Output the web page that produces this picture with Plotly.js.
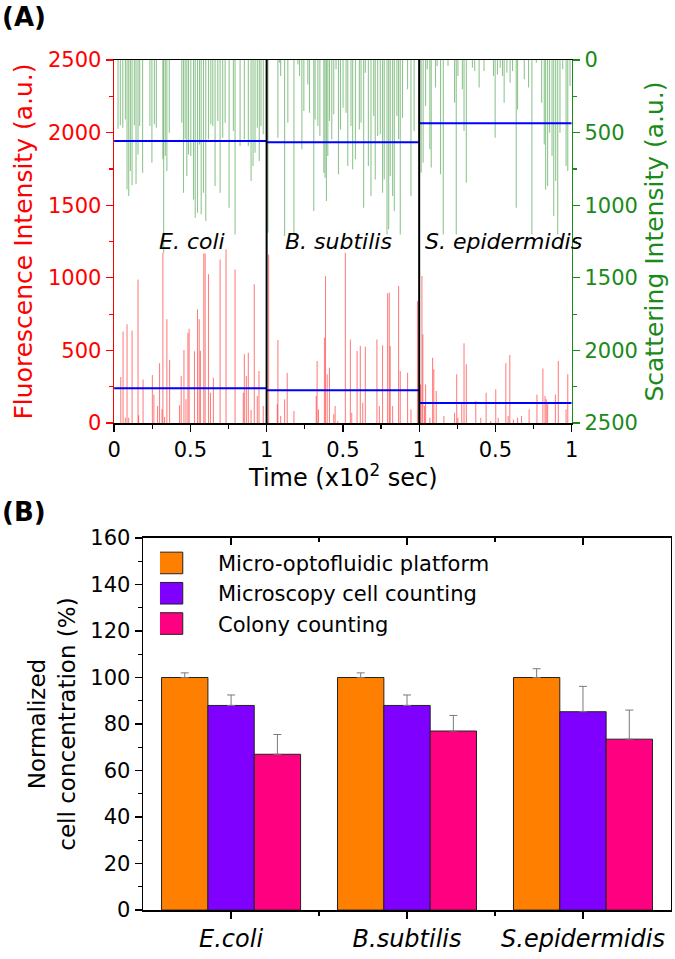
<!DOCTYPE html>
<html>
<head>
<meta charset="utf-8">
<script src="https://cdn.plot.ly/plotly-3.0.1.min.js"></script>
<style>
  body { margin: 0; background: #fff; }
  #chart { width: 675px; height: 959px; }
</style>
</head>
<body>
<div id="chart"></div>
<script>
// (A) spike trains, time within each segment (x10^2 sec) and intensity (a.u.)
var species = ["E. coli", "B. subtilis", "S. epidermidis"];

var ecoliFlT = [0.044,0.059,0.074,0.085,0.096,0.118,0.157,0.161,0.190,0.251,0.261,0.285,0.298,0.314,0.320,0.331,0.346,0.364,0.429,0.440,0.458,0.471,0.484,0.492,0.527,0.547,0.558,0.566,0.588,0.597,0.619,0.632,0.651,0.695,0.734,0.793,0.847,0.854,0.867,0.880,0.898,0.919,0.939,0.950,0.978];
var ecoliFl = [317,631,37,680,37,638,989,53,300,330,197,117,411,94,1173,41,714,434,122,324,503,163,622,650,494,783,714,498,1168,1168,1024,209,312,1127,1196,1058,209,473,324,484,90,955,186,358,117];
var ecoliScT = [0.026,0.041,0.057,0.074,0.085,0.096,0.107,0.118,0.133,0.144,0.157,0.168,0.187,0.235,0.248,0.264,0.277,0.320,0.325,0.336,0.346,0.362,0.444,0.455,0.466,0.477,0.488,0.503,0.521,0.532,0.547,0.560,0.571,0.586,0.601,0.619,0.634,0.647,0.662,0.680,0.695,0.712,0.728,0.754,0.782,0.793,0.826,0.854,0.880,0.898,0.911,0.924,0.939,0.952,0.963,0.978];
var ecoliSc = [473,450,466,409,891,937,764,863,450,856,650,455,776,455,707,443,466,684,1327,661,764,500,432,914,546,799,650,661,960,1086,1051,581,1063,914,1109,546,443,455,868,420,914,535,432,1017,489,1201,592,546,592,833,730,638,466,696,455,512];

var bsubFlT = [0.013,0.070,0.074,0.092,0.118,0.135,0.179,0.325,0.331,0.340,0.379,0.386,0.397,0.412,0.440,0.449,0.466,0.516,0.549,0.558,0.593,0.614,0.630,0.647,0.723,0.739,0.760,0.793,0.804,0.810,0.826,0.865,0.876,0.924,0.946,0.989];
var bsubFl = [1161,129,572,48,163,347,83,186,427,94,588,1012,335,381,60,117,14,1173,576,71,496,530,140,526,576,117,535,893,898,530,117,944,358,347,94,840];
var bsubScT = [0.009,0.074,0.085,0.092,0.118,0.139,0.179,0.205,0.216,0.231,0.244,0.270,0.281,0.309,0.318,0.336,0.349,0.375,0.383,0.392,0.401,0.412,0.427,0.440,0.455,0.471,0.484,0.501,0.521,0.532,0.553,0.564,0.582,0.608,0.619,0.636,0.647,0.667,0.684,0.702,0.712,0.728,0.745,0.760,0.771,0.789,0.800,0.810,0.826,0.837,0.854,0.865,0.876,0.891,0.924,0.946,0.967];
var bsubSc = [1189,535,18,110,1212,432,1201,30,110,615,351,168,363,1040,409,455,523,776,810,971,661,420,546,374,64,787,478,328,363,730,455,753,684,478,432,1017,87,730,937,386,822,523,512,914,822,1201,1166,799,937,1040,386,546,1201,397,202,937,489];

var sepiFlT = [0.009,0.018,0.024,0.035,0.042,0.070,0.088,0.096,0.112,0.162,0.232,0.246,0.254,0.279,0.294,0.309,0.371,0.404,0.439,0.469,0.502,0.518,0.568,0.583,0.594,0.618,0.645,0.671,0.721,0.772,0.811,0.825,0.833,0.842,0.893,0.912,0.963,0.974];
var sepiFl = [266,1012,611,117,266,37,450,370,220,48,71,335,37,140,549,404,152,37,209,14,232,37,411,48,468,25,37,48,94,197,376,186,163,129,197,427,94,335];
var sepiScT = [0.013,0.026,0.042,0.053,0.070,0.079,0.107,0.118,0.140,0.158,0.189,0.232,0.243,0.254,0.283,0.294,0.309,0.349,0.364,0.393,0.425,0.487,0.498,0.513,0.531,0.546,0.557,0.575,0.596,0.612,0.636,0.645,0.689,0.717,0.739,0.768,0.803,0.820,0.829,0.842,0.855,0.871,0.882,0.895,0.908,0.923,0.941,0.963,0.974,0.989];
var sepiSc = [776,707,317,64,615,741,190,41,787,1201,41,294,1201,110,202,489,845,53,76,190,76,110,535,99,53,110,294,87,156,76,1017,340,133,190,1201,18,294,581,891,868,500,661,1074,833,1201,500,64,730,764,179];

var flMean = [240, 226, 138];
var scMean = [557, 567, 436];

// (B) normalized cell concentration (%)
var groups = ["E.coli", "B.subtilis", "S.epidermidis"];
var platform = [100, 100, 100];
var platformErr = [2, 2, 3.8];
var microscopy = [88, 88, 85.3];
var microscopyErr = [4.5, 4.5, 10.9];
var colony = [67, 77, 73.5];
var colonyErr = [8.5, 6.7, 12.5];

var FONT = "DejaVu Sans, Liberation Sans, Arial, sans-serif";
var RED = "#ff0000";
var GREEN = "#1a8a1a";

function shift(arr, k) { return arr.map(function (t) { return t + k; }); }

var flX = shift(ecoliFlT, 0).concat(shift(bsubFlT, 1), shift(sepiFlT, 2));
var flY = ecoliFl.concat(bsubFl, sepiFl);
var scX = shift(ecoliScT, 0).concat(shift(bsubScT, 1), shift(sepiScT, 2));
var scY = ecoliSc.concat(bsubSc, sepiSc);

function meanLine(vals) {
  var x = [], y = [];
  vals.forEach(function (v, i) { x.push(i, i + 1, null); y.push(v, v, null); });
  return { x: x, y: y };
}
var flM = meanLine(flMean);
var scM = meanLine(scMean);

var data = [
  { type: "bar", x: flX, y: flY, width: 0.007, xaxis: "x", yaxis: "y",
    marker: { color: "rgba(255,0,0,0.5)", line: { width: 0 } }, showlegend: false, hoverinfo: "skip" },
  { type: "bar", x: scX, y: scY, width: 0.007, xaxis: "x", yaxis: "y2",
    marker: { color: "rgba(30,140,30,0.5)", line: { width: 0 } }, showlegend: false, hoverinfo: "skip" },
  { type: "scatter", mode: "lines", x: flM.x, y: flM.y, xaxis: "x", yaxis: "y",
    line: { color: "#0000ff", width: 2 }, showlegend: false, connectgaps: false },
  { type: "scatter", mode: "lines", x: scM.x, y: scM.y, xaxis: "x", yaxis: "y2",
    line: { color: "#0000ff", width: 2 }, showlegend: false, connectgaps: false }
];

var bx = [0, 1, 2];
[[platform, platformErr, "Micro-optofluidic platform", "#ff8000"],
 [microscopy, microscopyErr, "Microscopy cell counting", "#8000ff"],
 [colony, colonyErr, "Colony counting", "#ff0080"]].forEach(function (s) {
  data.push({
    type: "bar", x: bx, y: s[0], name: s[2], xaxis: "x2", yaxis: "y3",
    marker: { color: s[3], line: { color: "#222", width: 1 } },
    error_y: { type: "data", array: s[1], arrayminus: [0, 0, 0], symmetric: false,
               color: "#7a7a7a", thickness: 1, width: 4 }
  });
});
// empty trace so the top (inside-tick) axis of panel B is drawn
data.push({ type: "scatter", mode: "markers", x: bx, y: [null, null, null], xaxis: "x3", yaxis: "y3",
            showlegend: false, hoverinfo: "skip" });

var layout = {
  width: 675, height: 959,
  margin: { l: 0, r: 0, t: 0, b: 0 },
  paper_bgcolor: "#fff", plot_bgcolor: "rgba(0,0,0,0)",
  font: { family: FONT, color: "#000" },
  barmode: "group", bargap: 0.21, bargroupgap: 0,
  showlegend: true,
  legend: { x: 0.237, y: 0.434, xanchor: "left", yanchor: "top", xref: "paper", yref: "paper",
            font: { size: 21, family: FONT }, bgcolor: "rgba(0,0,0,0)", itemwidth: 48, tracegroupgap: 0 },
  xaxis: {
    domain: [0.169, 0.847], anchor: "y", range: [0, 3],
    tickmode: "array", tickvals: [0, 0.5, 1, 1.5, 2, 2.5, 3],
    ticktext: ["0", "0.5", "1", "0.5", "1", "0.5", "1"],
    ticks: "outside", ticklen: 7, tickcolor: "#000", tickwidth: 1.2,
    minor: { tickmode: "array", tickvals: [0.25, 0.75, 1.25, 1.75, 2.25, 2.75], ticks: "outside", ticklen: 4, tickcolor: "#000" },
    showline: true, linecolor: "#000", linewidth: 1.5, mirror: true,
    showgrid: false, zeroline: false,
    tickfont: { size: 21, color: "#000" }
  },
  yaxis: {
    domain: [0.5589, 0.9374], anchor: "x", range: [0, 2500],
    tickvals: [0, 500, 1000, 1500, 2000, 2500],
    ticks: "outside", ticklen: 7, tickcolor: RED, tickwidth: 1.2,
    minor: { dtick: 250, ticks: "outside", ticklen: 4, tickcolor: RED },
    showline: true, linecolor: RED, linewidth: 1.5,
    showgrid: false, zeroline: false,
    tickfont: { size: 21, color: RED },
    title: { text: "Fluorescence Intensity (a.u.)", font: { size: 25, color: RED }, standoff: 8 }
  },
  yaxis2: {
    overlaying: "y", side: "right", anchor: "x", range: [2500, 0],
    tickvals: [0, 500, 1000, 1500, 2000, 2500],
    ticks: "outside", ticklen: 7, tickcolor: GREEN, tickwidth: 1.2,
    minor: { dtick: 250, ticks: "outside", ticklen: 4, tickcolor: GREEN },
    showline: true, linecolor: GREEN, linewidth: 1.5,
    showgrid: false, zeroline: false,
    tickfont: { size: 21, color: GREEN },
    title: { text: "Scattering Intensity (a.u.)", font: { size: 25, color: GREEN }, standoff: 8 }
  },
  xaxis2: {
    domain: [0.212, 0.994], anchor: "y3", range: [-0.5, 2.5],
    tickmode: "array", tickvals: bx,
    ticktext: groups.map(function (g) { return "<i>" + g + "</i>"; }),
    ticks: "outside", ticklen: 7, tickcolor: "#000", tickwidth: 1.2,
    minor: { tickmode: "array", tickvals: [0.5, 1.5], ticks: "outside", ticklen: 4, tickcolor: "#000" },
    showline: true, linecolor: "#000", linewidth: 1.5, mirror: true,
    showgrid: false, zeroline: false,
    tickfont: { size: 24, color: "#000" }
  },
  xaxis3: {
    overlaying: "x2", side: "top", anchor: "y3", range: [-0.5, 2.5],
    tickmode: "array", tickvals: bx, showticklabels: false,
    ticks: "inside", ticklen: 7, tickcolor: "#000", tickwidth: 1.2,
    minor: { tickmode: "array", tickvals: [0.5, 1.5], ticks: "inside", ticklen: 4, tickcolor: "#000" },
    showline: false, showgrid: false, zeroline: false
  },
  yaxis3: {
    domain: [0.051, 0.439], anchor: "x2", range: [0, 160],
    tickvals: [0, 20, 40, 60, 80, 100, 120, 140, 160],
    ticks: "outside", ticklen: 7, tickcolor: "#000", tickwidth: 1.2,
    minor: { dtick: 10, ticks: "outside", ticklen: 4, tickcolor: "#000" },
    showline: true, linecolor: "#000", linewidth: 1.5, mirror: true,
    showgrid: false, zeroline: false,
    tickfont: { size: 21, color: "#000" },
    title: { text: "Normalized<br>cell concentration (%)", font: { size: 23, color: "#000" }, standoff: 8 }
  },
  shapes: [1, 2].map(function (k) {
    return { type: "line", xref: "x", yref: "y domain", x0: k, x1: k, y0: 0, y1: 1,
             line: { color: "#000", width: 2 } };
  }),
  annotations: [
    { text: "<b>(A)</b>", xref: "paper", yref: "paper", x: 0.0, y: 1.0, xanchor: "left", yanchor: "top",
      showarrow: false, font: { size: 26, color: "#000" } },
    { text: "<b>(B)</b>", xref: "paper", yref: "paper", x: 0.0, y: 0.484, xanchor: "left", yanchor: "top",
      showarrow: false, font: { size: 26, color: "#000" } },
    { text: "Time (x10<sup>2</sup> sec)", xref: "x", yref: "paper", x: 1.5, y: 0.5036,
      xanchor: "center", yanchor: "middle", showarrow: false, font: { size: 24, color: "#000" } }
  ].concat([0.51, 1.47, 2.55].map(function (xc, i) {
    return { text: "<i>" + species[i] + "</i>", xref: "x", yref: "y", x: xc, y: 1250,
             showarrow: false, font: { size: 22, color: "#000" } };
  }))
};

Plotly.newPlot("chart", data, layout, { displayModeBar: false, staticPlot: true }).then(function () {
  // wider legend swatches, like the boxed keys of the original
  document.querySelectorAll("#chart .legend .legendpoints path").forEach(function (p) {
    p.setAttribute("transform", "scale(3.8,1.8)");
    p.style.vectorEffect = "non-scaling-stroke";
  });
});
</script>
</body>
</html>
